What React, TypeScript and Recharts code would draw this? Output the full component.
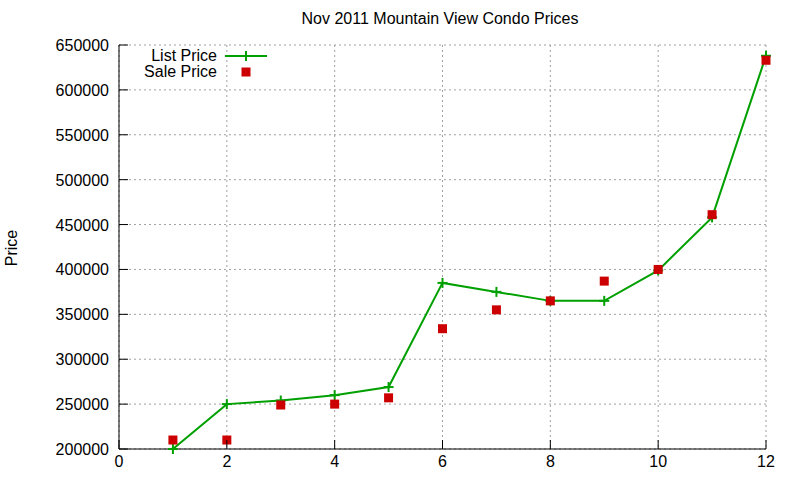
import React from 'react';
import { ComposedChart, Line, XAxis, YAxis, CartesianGrid } from 'recharts';

// month index (1..12) for each listing
const months = [1, 2, 3, 4, 5, 6, 7, 8, 9, 10, 11, 12];
const listPrices = [200000, 250000, 254000, 260000, 269000, 385000, 375000, 365000, 365000, 399000, 458000, 638000];
const salePrices = [210000, 210000, 249000, 250000, 257000, 334000, 355000, 365000, 387000, 400000, 461000, 633000];

const xTicks = [0, 2, 4, 6, 8, 10, 12];
const yTicks = [200000, 250000, 300000, 350000, 400000, 450000, 500000, 550000, 600000, 650000];

const data = months.map((m, i) => ({ month: m, list: listPrices[i], sale: salePrices[i] }));

const FONT = '"Liberation Sans", Arial, sans-serif';
const GREEN = '#00a000';
const RED = '#cc0000';
const TICK = 9;

const BottomTick = ({ x, y, payload }: any) => (
  <g>
    <line x1={x} x2={x} y1={y} y2={y - TICK} stroke="#000" />
    <text x={x} y={y + 18} textAnchor="middle" fontSize={16} fontFamily={FONT} fill="#000">
      {payload.value}
    </text>
  </g>
);

const TopTick = ({ x, y }: any) => <line x1={x} x2={x} y1={y} y2={y + TICK} stroke="#000" />;

const LeftTick = ({ x, y, payload }: any) => (
  <g>
    <line x1={x} x2={x + TICK} y1={y} y2={y} stroke="#000" />
    <text x={x - 10} y={y + 6} textAnchor="end" fontSize={16} fontFamily={FONT} fill="#000">
      {payload.value}
    </text>
  </g>
);

const RightTick = ({ x, y }: any) => <line x1={x} x2={x - TICK} y1={y} y2={y} stroke="#000" />;

const CrossDot = ({ cx, cy }: any) => (
  <g stroke={GREEN} strokeWidth={2}>
    <line x1={cx - 5} x2={cx + 5} y1={cy} y2={cy} />
    <line x1={cx} x2={cx} y1={cy - 5} y2={cy + 5} />
  </g>
);

const SquareDot = ({ cx, cy }: any) => <rect x={cx - 4.5} y={cy - 4.5} width={9} height={9} fill={RED} />;

const ChartLegend = () => (
  <svg width={160} height={40} style={{ position: 'absolute', left: 120, top: 45 }}>
    <g fontFamily={FONT} fontSize={16} fill="#000">
      <text x={97} y={16}>
        <tspan textAnchor="end">List Price</tspan>
      </text>
      <text x={97} y={32} textAnchor="end">Sale Price</text>
    </g>
    <line x1={105} x2={147} y1={11} y2={11} stroke={GREEN} strokeWidth={2} />
    <CrossDot cx={126} cy={11} />
    <SquareDot cx={126} cy={27} />
  </svg>
);

export default function App() {
  return (
    <div style={{ position: 'absolute', left: 0, top: 0, width: 800, height: 480, background: '#fff' }}>
      <div
        style={{
          position: 'absolute',
          left: 0,
          width: 880,
          top: 10,
          textAlign: 'center',
          fontFamily: FONT,
          fontSize: 16,
        }}
      >
        Nov 2011 Mountain View Condo Prices
      </div>
      <div
        style={{
          position: 'absolute',
          left: 12,
          top: 248,
          transform: 'translate(-50%, -50%) rotate(-90deg)',
          fontFamily: FONT,
          fontSize: 16,
        }}
      >
        Price
      </div>
      <ComposedChart width={800} height={480} data={data} margin={{ top: 45, right: 34, bottom: 0, left: 0 }}>
        <CartesianGrid stroke="#a0a0a0" strokeDasharray="2 3" />
        <XAxis
          dataKey="month"
          type="number"
          domain={[0, 12]}
          ticks={xTicks}
          height={31}
          tickSize={0}
          tickMargin={0}
          tickLine={false}
          axisLine={{ stroke: '#000' }}
          tick={<BottomTick />}
        />
        <XAxis
          xAxisId="top"
          orientation="top"
          dataKey="month"
          type="number"
          domain={[0, 12]}
          ticks={xTicks}
          height={0}
          tickSize={0}
          tickMargin={0}
          tickLine={false}
          axisLine={{ stroke: '#000' }}
          tick={<TopTick />}
        />
        <YAxis
          type="number"
          domain={[200000, 650000]}
          ticks={yTicks}
          width={119}
          tickSize={0}
          tickMargin={0}
          tickLine={false}
          axisLine={{ stroke: '#000' }}
          tick={<LeftTick />}
        />
        <YAxis
          yAxisId="right"
          orientation="right"
          type="number"
          domain={[200000, 650000]}
          ticks={yTicks}
          width={0}
          tickSize={0}
          tickMargin={0}
          tickLine={false}
          axisLine={{ stroke: '#000' }}
          tick={<RightTick />}
        />
        <Line
          dataKey="list"
          name="List Price"
          stroke={GREEN}
          strokeWidth={2}
          dot={<CrossDot />}
          activeDot={false}
          isAnimationActive={false}
        />
        <Line
          dataKey="sale"
          name="Sale Price"
          stroke="none"
          dot={<SquareDot />}
          activeDot={false}
          isAnimationActive={false}
        />
      </ComposedChart>
      <ChartLegend />
    </div>
  );
}
